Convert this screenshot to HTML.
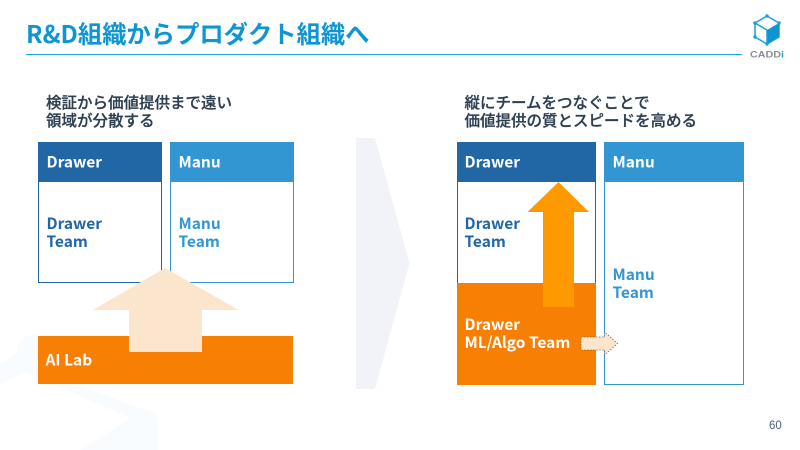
<!DOCTYPE html>
<html lang="ja">
<head>
<meta charset="utf-8">
<style>
html,body{margin:0;padding:0;background:#fff;width:800px;height:450px;overflow:hidden}
svg{display:block}
text{font-family:"Noto Sans CJK JP","Liberation Sans",sans-serif}
.t{font-size:15.500px;font-weight:700}
.s{font-size:15.500px;font-weight:500;fill:#2c3e50;stroke:#2c3e50;stroke-width:.25px}
</style>
</head>
<body>
<svg width="800" height="450" viewBox="0 0 800 450" xmlns="http://www.w3.org/2000/svg">
<rect width="800" height="450" fill="#fff"/>
<!-- watermark -->
<path d="M0 363L17 354L17 348Q20 336 33 335L50 336L50 385L25 372L0 385ZM55 385L78 385L154 413Q158 416 158 420V450H80L130 418Z" fill="#f9fcfe"/>
<!-- chevron -->
<polygon points="356,138 375,138 409.500,263 375,389 356,389" fill="#f1f3f9"/>
<!-- title -->
<text x="26" y="43" font-size="24.300" font-weight="700" fill="#0f96d2">R&amp;D組織からプロダクト組織へ</text>
<rect x="26" y="54" width="716" height="1" fill="#1fa7dc"/>
<!-- logo -->
<g>
<polygon points="767,16 779,23 779,37 767,44 755,37 755,23" fill="none" stroke="#1a9fd8" stroke-width="1.500"/>
<polygon points="767,30 779,23 779,37 767,44" fill="#0f96d2"/>
<path d="M755 23L767 30V44" fill="none" stroke="#1a9fd8" stroke-width="1.500"/>
<circle cx="767" cy="16" r="1.700" fill="#1a9fd8"/><circle cx="755" cy="23" r="1.700" fill="#1a9fd8"/><circle cx="779" cy="23" r="1.700" fill="#1a9fd8"/><circle cx="755" cy="37" r="1.700" fill="#1a9fd8"/><circle cx="767" cy="44" r="1.700" fill="#1a9fd8"/>
<text x="750" y="57.500" font-size="9.500" font-weight="700" textLength="34" lengthAdjust="spacingAndGlyphs" fill="#8a8f96" style="font-family:'Liberation Sans',sans-serif">CADD<tspan fill="#1a9fd8">i</tspan></text>
</g>
<!-- left heading -->
<text class="s" x="46" y="108">検証から価値提供まで遠い</text>
<text class="s" x="46" y="126">領域が分散する</text>
<!-- right heading -->
<text class="s" x="464.500" y="108">縦にチームをつなぐことで</text>
<text class="s" x="464.500" y="126">価値提供の質とスピードを高める</text>
<!-- left boxes -->
<rect x="38.500" y="142.500" width="123" height="140" fill="#fff" stroke="#2166a5"/>
<rect x="38" y="142" width="124" height="40" fill="#2166a5"/>
<text class="t" x="46.500" y="167.500" fill="#fff">Drawer</text>
<text class="t" x="46.500" y="229" fill="#2166a5">Drawer</text>
<text class="t" x="46.500" y="247" fill="#2166a5">Team</text>
<rect x="170.500" y="142.500" width="123" height="140" fill="#fff" stroke="#3296d3"/>
<rect x="170" y="142" width="124" height="40" fill="#3296d3"/>
<text class="t" x="178.500" y="167.500" fill="#fff">Manu</text>
<text class="t" x="178.500" y="229" fill="#3296d3">Manu</text>
<text class="t" x="178.500" y="247" fill="#3296d3">Team</text>
<!-- AI lab -->
<rect x="38" y="336" width="255" height="48" fill="#f77f03"/>
<text class="t" x="45.500" y="365.500" fill="#fff">AI Lab</text>
<polygon points="165,268 238.500,310 202,310 202,352 129,352 129,310 93,310" fill="#fbe5cd"/>
<!-- right boxes -->
<rect x="457.500" y="142.500" width="138" height="141" fill="#fff" stroke="#2166a5"/>
<rect x="457" y="142" width="139" height="40" fill="#2166a5"/>
<text class="t" x="464.500" y="167.500" fill="#fff">Drawer</text>
<text class="t" x="464.500" y="229" fill="#2166a5">Drawer</text>
<text class="t" x="464.500" y="247" fill="#2166a5">Team</text>
<rect x="457" y="283" width="139" height="102" fill="#f77f03"/>
<text class="t" x="464.500" y="330" fill="#fff">Drawer</text>
<text class="t" x="464.500" y="348" fill="#fff">ML/Algo Team</text>
<rect x="604.500" y="142.500" width="139" height="242" fill="#fff" stroke="#3296d3"/>
<rect x="604" y="142" width="140" height="40" fill="#3296d3"/>
<text class="t" x="612.500" y="167.500" fill="#fff">Manu</text>
<text class="t" x="612.500" y="280" fill="#3296d3">Manu</text>
<text class="t" x="612.500" y="298" fill="#3296d3">Team</text>
<!-- orange arrow -->
<polygon points="558.500,182 589,212 574,212 574,307 543,307 543,212 527.500,212" fill="#ff9900"/>
<!-- small arrow -->
<polygon points="581,337 604.500,337 604.500,332 617.500,343.500 604.500,355 604.500,350 581,350" fill="#fbe5cd" stroke="#666" stroke-width="0.800" stroke-dasharray="1.500 1.500"/>
<!-- page number -->
<text x="769" y="429" font-size="11.500" fill="#4d5b7c" style="font-family:'Liberation Sans',sans-serif">60</text>
</svg>
</body>
</html>
